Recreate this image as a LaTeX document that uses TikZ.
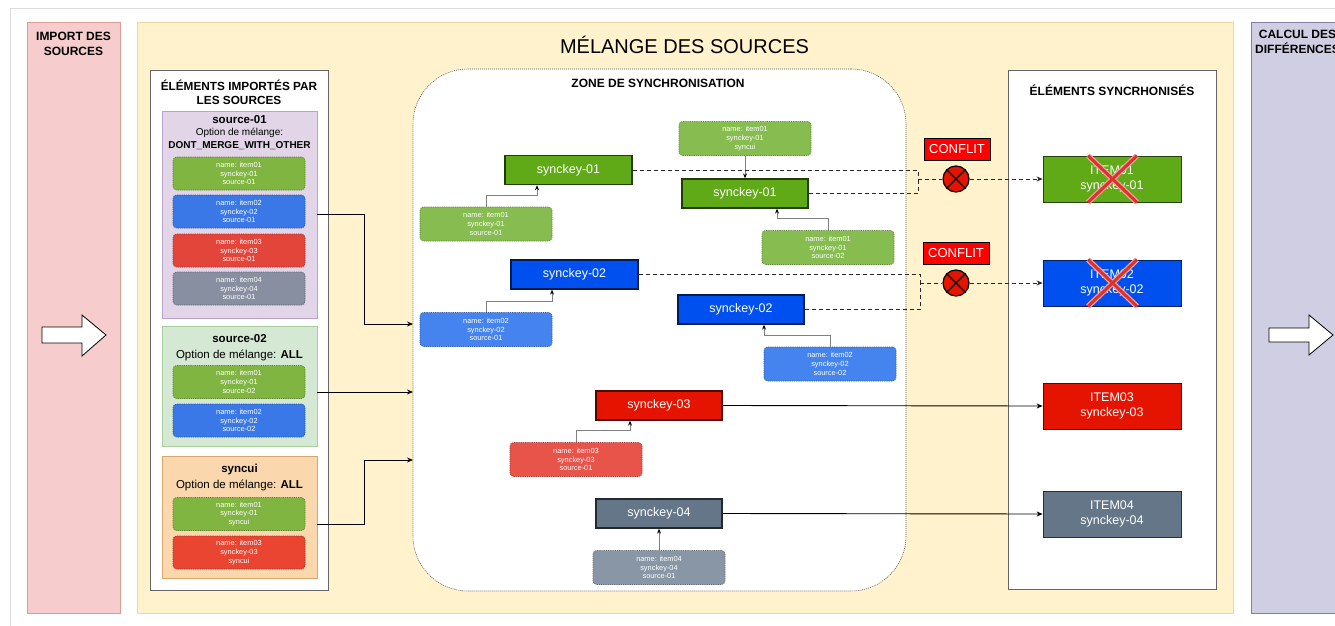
\documentclass[tikz,border=0pt]{standalone}
\usepackage{fontspec}
\setmainfont{Liberation Sans}
\usetikzlibrary{arrows.meta,calc}
\definecolor{pinkbg}{HTML}{F6CDCC}
\definecolor{pinkln}{HTML}{DB9C9A}
\definecolor{yelbg}{HTML}{FFF2CC}
\definecolor{yelln}{HTML}{EAD9A2}
\definecolor{purbg}{HTML}{D0CEE2}
\definecolor{purln}{HTML}{857FA6}
\definecolor{s1bg}{HTML}{E1D5E7}
\definecolor{s1ln}{HTML}{B9A3C7}
\definecolor{s2bg}{HTML}{D5E8D4}
\definecolor{s2ln}{HTML}{A9CF9C}
\definecolor{s3bg}{HTML}{FAD7AC}
\definecolor{s3ln}{HTML}{D9A66B}
\definecolor{gItem}{HTML}{80B541}
\definecolor{bItem}{HTML}{3A78E8}
\definecolor{rItem}{HTML}{E4453A}
\definecolor{oItem}{HTML}{EA4530}
\definecolor{yItem}{HTML}{878FA1}
\definecolor{gZone}{HTML}{86BC50}
\definecolor{bZone}{HTML}{4584EE}
\definecolor{rZone}{HTML}{E8534A}
\definecolor{yZone}{HTML}{8896A6}
\definecolor{gKey}{HTML}{60A917}
\definecolor{bKey}{HTML}{0050EF}
\definecolor{rKey}{HTML}{E51400}
\definecolor{yKey}{HTML}{647687}
\definecolor{conf}{HTML}{FF0000}
\definecolor{xred}{HTML}{E0302B}
\definecolor{pgline}{HTML}{DCDCDC}
\tikzset{
  panel/.style={rectangle, inner sep=0, minimum width=93pt, minimum height=591pt, line width=0.8pt},
  ttl/.style={font=\bfseries\fontsize{12}{14.5}\selectfont, align=center, inner sep=0},
  box/.style={rectangle, draw=black!60, fill=white, inner sep=0, line width=0.8pt},
  src/.style={rectangle, inner sep=0, minimum width=155pt, line width=0.8pt},
  item/.style={rectangle, rounded corners=3.5pt, inner sep=0, minimum width=132pt, minimum height=33pt,
    text=white, align=center, font=\fontsize{7.4}{8.75}\selectfont, line width=0.6pt, dash pattern=on 1.2pt off 1pt},
  key/.style={rectangle, inner sep=0, minimum width=127pt, minimum height=29pt, text=white,
    font=\fontsize{12.5}{15}\selectfont, line width=1.3pt},
  res/.style={rectangle, inner sep=0, minimum width=138pt, minimum height=46pt, text=white, align=center,
    font=\fontsize{12.5}{15}\selectfont, line width=0.8pt},
  conflit/.style={rectangle, fill=conf, draw=black, line width=1pt, inner sep=0, minimum width=66pt,
    minimum height=22pt, text=white, font=\fontsize{13}{15}\selectfont},
  xcirc/.style={circle, fill=rKey, draw=black, line width=1.2pt, minimum size=26pt, inner sep=0},
  gc/.style={draw=black!50, line width=0.9pt, -{Stealth[length=5pt,width=4pt,black]}},
  arr/.style={draw=black, line width=0.9pt, -{Stealth[length=6pt,width=5pt]}},
  dsh/.style={draw=black!85, line width=1pt, dash pattern=on 4pt off 3pt},
  barrow/.style={draw=black, fill=white, line width=0.8pt},
}
\begin{document}
\begin{tikzpicture}[x=1pt,y=-1pt]
\useasboundingbox (0,0) rectangle (1335,626);
\clip (0,0) rectangle (1335,626);
\fill[white] (0,0) rectangle (1335,626);
\draw[pgline, line width=1pt] (10,626) -- (10,9) -- (1335,9);

% main panels
\node[panel, fill=pinkbg, draw=pinkln] (imp) at (73.5,317.5) {};
\node[panel, fill=yelbg, draw=yelln, minimum width=1096pt] (mel) at (685,317.5) {};
\node[panel, fill=purbg, draw=purln] (calc) at (1297.5,317.5) {};

\node[ttl, anchor=base] (timp) at (73.5,55.5) {IMPORT DES\\SOURCES};
\node[ttl, anchor=base] (tcalc) at (1297.5,53.5) {CALCUL DES\\DIFFÉRENCES};
\node[anchor=base, inner sep=0, font=\fontsize{20}{24}\selectfont] (tmel) at (684.5,53) {MÉLANGE DES SOURCES};

% block arrows
\draw[barrow] (42,327) -- (82,327) -- (82,315) -- (106,335) -- (82,356) -- (82,343) -- (42,343) -- cycle;
\draw[barrow] (1269,328) -- (1309,328) -- (1309,315) -- (1333,335) -- (1309,355) -- (1309,342) -- (1269,342) -- cycle;

% imported elements
\node[box, minimum width=178pt, minimum height=520pt] (imported) at (239,330) {};
\node[ttl, anchor=base, font=\bfseries\fontsize{11.8}{14}\selectfont] (timported) at (239,104) {ÉLÉMENTS IMPORTÉS PAR\\LES SOURCES};

\node[src, fill=s1bg, draw=s1ln, minimum height=207pt] (s1) at (239.5,214.5) {};
\node[anchor=base, align=center, inner sep=0, font=\fontsize{10}{12.5}\selectfont] (ts1) at (239.5,148)
  {{\bfseries\fontsize{11.5}{12.5}\selectfont source-01}\\Option de mélange:\\\textbf{DONT\_MERGE\_WITH\_OTHER}};
\node[item, fill=gItem, draw=gItem!70!black] (i11) at (239,173.5) {name: item01\\synckey-01\\source-01};
\node[item, fill=bItem, draw=bItem!70!black] (i12) at (239,211.5) {name: item02\\synckey-02\\source-01};
\node[item, fill=rItem, draw=rItem!70!black] (i13) at (239,250.5) {name: item03\\synckey-03\\source-01};
\node[item, fill=yItem, draw=yItem!70!black] (i14) at (239,288.5) {name: item04\\synckey-04\\source-01};

\node[src, fill=s2bg, draw=s2ln, minimum height=120pt] (s2) at (239.5,386) {};
\node[anchor=base, align=center, inner sep=0, font=\fontsize{11.5}{16}\selectfont] (ts2) at (239.5,358)
  {\textbf{source-02}\\Option de mélange: \textbf{ALL}};
\node[item, fill=gItem, draw=gItem!70!black] (i21) at (239,382) {name: item01\\synckey-01\\source-02};
\node[item, fill=bItem, draw=bItem!70!black] (i22) at (239,420.5) {name: item02\\synckey-02\\source-02};

\node[src, fill=s3bg, draw=s3ln, minimum height=122pt] (s3) at (239.5,517) {};
\node[anchor=base, align=center, inner sep=0, font=\fontsize{11.5}{16}\selectfont] (ts3) at (239.5,488)
  {\textbf{syncui}\\Option de mélange: \textbf{ALL}};
\node[item, fill=gItem, draw=gItem!70!black] (i31) at (239,514) {name: item01\\synckey-01\\syncui};
\node[item, fill=oItem, draw=oItem!70!black] (i33) at (239,552.5) {name: item03\\synckey-03\\syncui};

% synchronisation zone
\node[rectangle, draw=black!65, fill=white, dash pattern=on 1pt off 1pt, line width=0.6pt,
  rounded corners=55pt, minimum width=493pt, minimum height=522pt, inner sep=0] (zone) at (659.5,330) {};
\node[ttl, anchor=base] (tzone) at (658,87) {ZONE DE SYNCHRONISATION};

\coordinate (zin1) at (413,324);
\coordinate (zin2) at (413,392);
\coordinate (zin3) at (413,460);
\draw[arr] (s1.east) -- ++(47,0) |- (zin1);
\draw[arr] ([yshift=-6pt]s2.east) -- (zin2);
\draw[arr] ([yshift=-7pt]s3.east) -- ++(47,0) |- (zin3);

\node[key, fill=gKey, draw=gKey!35!black] (k1a) at (568.5,170) {synckey-01};
\node[key, fill=gKey, draw=gKey!35!black, minimum width=126pt] (k1b) at (745,193.5) {synckey-01};
\node[key, fill=bKey, draw=bKey!35!black] (k2a) at (574.5,274.5) {synckey-02};
\node[key, fill=bKey, draw=bKey!35!black, minimum width=126pt] (k2b) at (741,309.5) {synckey-02};
\node[key, fill=rKey, draw=rKey!35!black, minimum width=126pt] (k3) at (659,405.5) {synckey-03};
\node[key, fill=yKey, draw=yKey!35!black, minimum width=126pt] (k4) at (659,513.5) {synckey-04};

\node[item, fill=gZone, draw=gZone!70!black, minimum height=34pt] (zu1) at (745,138.5) {name: item01\\synckey-01\\syncui};
\node[item, fill=gZone, draw=gZone!70!black, minimum height=34pt] (z11) at (486,224) {name: item01\\synckey-01\\source-01};
\node[item, fill=gZone, draw=gZone!70!black, minimum height=34pt] (z12) at (828,247.5) {name: item01\\synckey-01\\source-02};
\node[item, fill=bZone, draw=bZone!70!black, minimum height=34pt] (z21) at (486,329.5) {name: item02\\synckey-02\\source-01};
\node[item, fill=bZone, draw=bZone!70!black, minimum height=34pt] (z22) at (830,364) {name: item02\\synckey-02\\source-02};
\node[item, fill=rZone, draw=rZone!70!black, minimum height=34pt] (z31) at (576,459.5) {name: item03\\synckey-03\\source-01};
\node[item, fill=yZone, draw=yZone!70!black, minimum height=34pt] (z41) at (659,567.5) {name: item04\\synckey-04\\source-01};

\draw[gc] (zu1.south) -- (k1b.north);
\draw[gc] (z11.north) -- ++(0,-11) -| ([xshift=-31.5pt]k1a.south);
\draw[gc] (z12.north) -- ++(0,-12) -| ([xshift=32pt]k1b.south);
\draw[gc] (z21.north) -- ++(0,-11) -| ([xshift=-22.5pt]k2a.south);
\draw[gc] (z22.north) -- ++(0,-11) -| ([xshift=23pt]k2b.south);
\draw[gc] (z31.north) -- ++(0,-12) -| ([xshift=-29pt]k3.south);
\draw[gc] (z41.north) -- (k4.south);

% synchronised elements
\node[box, minimum width=208pt, minimum height=519pt] (synced) at (1112,329.5) {};
\node[ttl, anchor=base] (tsynced) at (1112,95) {ÉLÉMENTS SYNCRHONISÉS};

\node[res, fill=gKey, draw=gKey!40!black] (r1) at (1112,179) {ITEM01\\synckey-01};
\node[res, fill=bKey, draw=bKey!40!black] (r2) at (1112,283) {ITEM02\\synckey-02};
\node[res, fill=rKey, draw=rKey!40!black] (r3) at (1112,406) {ITEM03\\synckey-03};
\node[res, fill=yKey, draw=yKey!40!black] (r4) at (1112,514) {ITEM04\\synckey-04};

\foreach \r in {r1,r2}{
  \draw[xred!45!white, line width=5.5pt] ([xshift=-24pt]\r.north) -- ([xshift=25pt]\r.south);
  \draw[xred!45!white, line width=5.5pt] ([xshift=25pt]\r.north) -- ([xshift=-24pt]\r.south);
  \draw[xred, line width=3pt] ([xshift=-24pt]\r.north) -- ([xshift=25pt]\r.south);
  \draw[xred, line width=3pt] ([xshift=25pt]\r.north) -- ([xshift=-24pt]\r.south);
}

% conflicts
\node[conflit] (cf1) at (957,149) {CONFLIT};
\node[conflit] (cf2) at (956,253) {CONFLIT};
\node[xcirc] (c1) at (956,179) {};
\node[xcirc] (c2) at (956,283) {};
\foreach \c in {c1,c2}{
  \draw[black, line width=1.1pt] (\c.north west) -- (\c.south east);
  \draw[black, line width=1.1pt] (\c.north east) -- (\c.south west);
}

\coordinate (j1) at (918,179);
\coordinate (j2) at (920,283);
\draw[dsh] (k1a.east) -| (j1);
\draw[dsh] (k1b.east) -| (j1);
\draw[dsh] (j1) -- (c1.west);
\draw[dsh, -{Stealth[length=6pt,width=5pt]}] (c1.east) -- (r1.west);
\draw[dsh] (k2a.east) -| (j2);
\draw[dsh] (k2b.east) -| (j2);
\draw[dsh] (j2) -- (c2.west);
\draw[dsh, -{Stealth[length=6pt,width=5pt]}] (c2.east) -- (r2.west);

\draw[arr] (k3.east) -- (r3.west);
\draw[arr] (k4.east) -- (r4.west);
\end{tikzpicture}
\end{document}
